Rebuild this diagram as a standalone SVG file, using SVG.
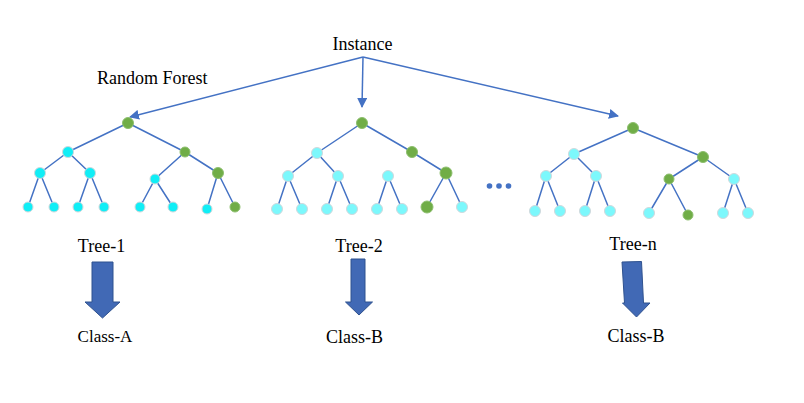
<svg xmlns="http://www.w3.org/2000/svg" width="804" height="403" viewBox="0 0 804 403">
  <defs>
    <marker id="tip" viewBox="0 0 10 10" refX="9" refY="5" markerWidth="10" markerHeight="10" markerUnits="userSpaceOnUse" orient="auto">
      <path d="M0,0 L10,5 L0,10 Z" fill="#4472C4"/>
    </marker>
    <style>
      .lbl { font-family: "Liberation Serif", "Times New Roman", serif; font-size: 18px; fill: #000; }
      .edge { stroke: #4472C4; stroke-width: 1.5; fill: none; }
      .cy { fill: #10EEF6; stroke: #D0D8DC; stroke-width: 1; }
      .lc { fill: #7CF8FC; stroke: #D0D8DC; stroke-width: 1; }
      .gr { fill: #70AD47; stroke: #8DBF6E; stroke-width: 1; }
      .blk { fill: #4169B5; stroke: #2F528F; stroke-width: 1; }
    </style>
  </defs>
  <rect width="804" height="403" fill="#fff"/>

  <!-- titles -->
  <g id="instance"><text class="lbl" x="362.5" y="50" text-anchor="middle">Instance</text></g>
  <g id="forest-title"><text class="lbl" x="97" y="84">Random Forest</text></g>

  <!-- connectors: instance fan-out and tree edges -->
  <g id="connectors">
    <line class="edge" x1="363" y1="57" x2="130" y2="117" marker-end="url(#tip)"/>
    <line class="edge" x1="363" y1="57" x2="362" y2="107" marker-end="url(#tip)"/>
    <line class="edge" x1="363" y1="57" x2="618" y2="116" marker-end="url(#tip)"/>

    <!-- tree 1 -->
    <path class="edge" d="M128,123 L68,152 M128,123 L185,152
      M68,152 L40,173 M68,152 L90,173 M185,152 L155,179 M185,152 L218,173
      M40,173 L28,207 M40,173 L54,207 M90,173 L78,207 M90,173 L104,207
      M155,179 L140,207 M155,179 L173,207 M218,173 L207,209 M218,173 L235,207"/>
    <!-- tree 2 -->
    <path class="edge" d="M362,123 L317,153 M362,123 L412,152
      M317,153 L288,176 M317,153 L338,176 M412,152 L446,173
      M288,176 L277,209 M288,176 L302,209 M338,176 L327,209 M338,176 L352,209
      M388,176 L377,209 M388,176 L402,209 M446,173 L427,207 M446,173 L462,207"/>
    <!-- tree n -->
    <path class="edge" d="M633,128 L574,154 M633,128 L703,157
      M574,154 L546,176 M574,154 L596,176 M703,157 L669,179 M703,157 L734,179
      M546,176 L535,211 M546,176 L560,211 M596,176 L585,211 M596,176 L610,211
      M669,179 L649,213 M669,179 L688,215 M734,179 L723,213 M734,179 L748,213"/>
  </g>

  <!-- tree 1 nodes -->
  <g id="tree-1">
    <circle class="gr" cx="128" cy="123" r="5.5"/>
    <circle class="cy" cx="68" cy="152" r="5.5"/>
    <circle class="gr" cx="185" cy="152" r="5"/>
    <circle class="cy" cx="40" cy="173" r="5.5"/>
    <circle class="cy" cx="90" cy="173" r="5.5"/>
    <circle class="cy" cx="155" cy="179" r="5"/>
    <circle class="gr" cx="218" cy="173" r="5.5"/>
    <circle class="cy" cx="28" cy="207" r="5"/>
    <circle class="cy" cx="54" cy="207" r="5"/>
    <circle class="cy" cx="78" cy="207" r="5"/>
    <circle class="cy" cx="104" cy="207" r="5"/>
    <circle class="cy" cx="140" cy="207" r="5"/>
    <circle class="cy" cx="173" cy="207" r="5"/>
    <circle class="cy" cx="207" cy="209" r="5"/>
    <circle class="gr" cx="235" cy="207" r="5"/>
    <text class="lbl" x="101.5" y="251.5" text-anchor="middle">Tree-1</text>
  </g>

  <!-- tree 2 nodes -->
  <g id="tree-2">
    <circle class="gr" cx="362" cy="123" r="5.5"/>
    <circle class="lc" cx="317" cy="153" r="5.5"/>
    <circle class="gr" cx="412" cy="152" r="5.5"/>
    <circle class="lc" cx="288" cy="176" r="5.5"/>
    <circle class="lc" cx="338" cy="176" r="5.5"/>
    <circle class="lc" cx="388" cy="176" r="5.5"/>
    <circle class="gr" cx="446" cy="173" r="6"/>
    <circle class="lc" cx="277" cy="209" r="5.5"/>
    <circle class="lc" cx="302" cy="209" r="5.5"/>
    <circle class="lc" cx="327" cy="209" r="5.5"/>
    <circle class="lc" cx="352" cy="209" r="5.5"/>
    <circle class="lc" cx="377" cy="209" r="5.5"/>
    <circle class="lc" cx="402" cy="209" r="5.5"/>
    <circle class="gr" cx="427" cy="207" r="6"/>
    <circle class="lc" cx="462" cy="207" r="5.5"/>
    <text class="lbl" x="359" y="251.5" text-anchor="middle">Tree-2</text>
  </g>

  <!-- ellipsis between trees -->
  <g id="ellipsis" fill="#4472C4">
    <circle cx="489.5" cy="186" r="2.8"/>
    <circle cx="499" cy="186" r="2.8"/>
    <circle cx="508.5" cy="186" r="2.8"/>
  </g>

  <!-- tree n nodes -->
  <g id="tree-n">
    <circle class="gr" cx="633" cy="128" r="5.5"/>
    <circle class="lc" cx="574" cy="154" r="5.5"/>
    <circle class="gr" cx="703" cy="157" r="5.5"/>
    <circle class="lc" cx="546" cy="176" r="5.5"/>
    <circle class="lc" cx="596" cy="176" r="5.5"/>
    <circle class="gr" cx="669" cy="179" r="5"/>
    <circle class="lc" cx="734" cy="179" r="5.5"/>
    <circle class="lc" cx="535" cy="211" r="5.5"/>
    <circle class="lc" cx="560" cy="211" r="5.5"/>
    <circle class="lc" cx="585" cy="211" r="5.5"/>
    <circle class="lc" cx="610" cy="211" r="5.5"/>
    <circle class="lc" cx="649" cy="213" r="5.5"/>
    <circle class="gr" cx="688" cy="215" r="5"/>
    <circle class="lc" cx="723" cy="213" r="5.5"/>
    <circle class="lc" cx="748" cy="213" r="5.5"/>
    <text class="lbl" x="633" y="250" text-anchor="middle">Tree-n</text>
  </g>

  <!-- votes -->
  <g id="vote-1">
    <polygon class="blk" points="92,262 113,262 113,302 120,302 102.5,318 85,302 92,302"/>
    <text class="lbl" x="105" y="341.5" text-anchor="middle" style="font-size:17px">Class-A</text>
  </g>
  <g id="vote-2">
    <polygon class="blk" points="351,259 365,259 365,302 372.5,302 359,315 345.5,302 351,302"/>
    <text class="lbl" x="354.5" y="342.5" text-anchor="middle">Class-B</text>
  </g>
  <g id="vote-n">
    <polygon class="blk" points="622,262 641.5,261.5 643.5,303 650,303 636.5,317 622.5,303 624.5,303"/>
    <text class="lbl" x="636" y="341.5" text-anchor="middle">Class-B</text>
  </g>
</svg>
